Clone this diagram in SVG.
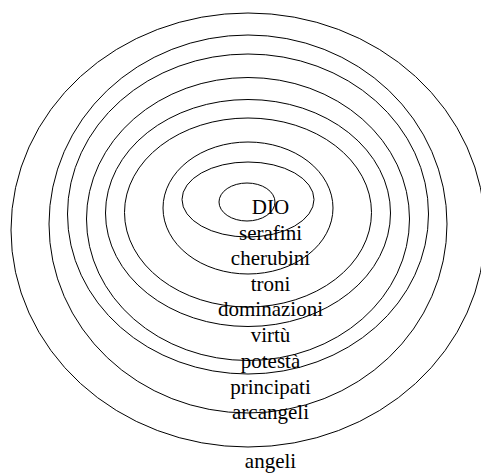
<svg xmlns="http://www.w3.org/2000/svg" width="481" height="474" viewBox="0 0 481 474">
<style>
.ring{fill:none;stroke:#000;stroke-width:1}
.lbl{font-family:"Liberation Serif","Times New Roman",serif;font-size:21px;fill:#000;text-anchor:middle}
</style>
<rect width="481" height="474" fill="#fff"/>
<g id="rings">
<ellipse id="ring9" class="ring" cx="248" cy="230" rx="237" ry="217"/>
<ellipse id="ring8" class="ring" cx="248" cy="224" rx="199" ry="189"/>
<ellipse id="ring7" class="ring" cx="248" cy="214" rx="180.5" ry="160"/>
<ellipse id="ring6" class="ring" cx="248" cy="219" rx="161.5" ry="141.5"/>
<ellipse id="ring5" class="ring" cx="248" cy="213" rx="142.5" ry="113.5"/>
<ellipse id="ring4" class="ring" cx="248" cy="212.5" rx="123.5" ry="94.5"/>
<ellipse id="ring3" class="ring" cx="248" cy="208" rx="85" ry="66"/>
<ellipse id="ring2" class="ring" cx="248" cy="199.5" rx="66" ry="37.5"/>
<ellipse id="ring1" class="ring" cx="247" cy="202" rx="28" ry="19"/>
</g>
<g id="labels">
<g id="dio"><text class="lbl" x="270.5" y="214">DIO</text></g>
<g id="serafini"><text class="lbl" x="270.5" y="240">serafini</text></g>
<g id="cherubini"><text class="lbl" x="270.5" y="265">cherubini</text></g>
<g id="troni"><text class="lbl" x="270.5" y="290.5">troni</text></g>
<g id="dominazioni"><text class="lbl" x="270.5" y="316">dominazioni</text></g>
<g id="virtu"><text class="lbl" x="270.5" y="342">virtù</text></g>
<g id="potesta"><text class="lbl" x="270.5" y="368">potestà</text></g>
<g id="principati"><text class="lbl" x="270.5" y="393.5">principati</text></g>
<g id="arcangeli"><text class="lbl" x="270.5" y="419">arcangeli</text></g>
<g id="angeli"><text class="lbl" x="270.5" y="468">angeli</text></g>
</g>
</svg>
